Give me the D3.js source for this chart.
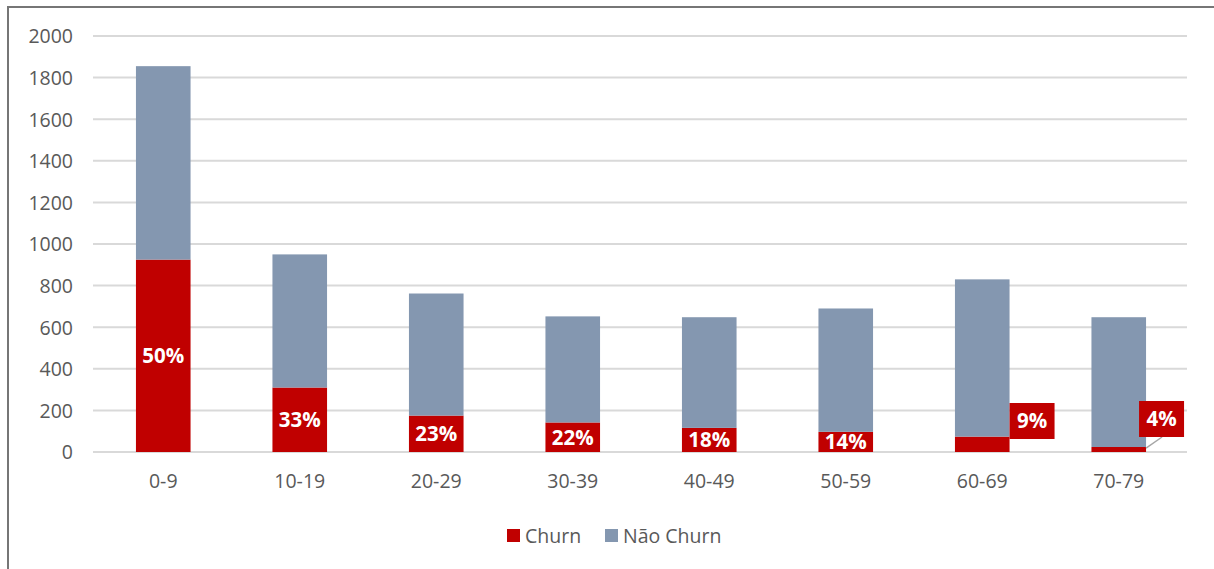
<!DOCTYPE html>
<html>
<head>
<meta charset="utf-8">
<script src="https://cdn.jsdelivr.net/npm/d3@7"></script>
<style>
  html, body { margin: 0; padding: 0; background: #fff; }
  svg { display: block; }
  text { font-family: "Open Sans", Lato, sans-serif; }
</style>
</head>
<body>
<svg id="chart" width="1214" height="569"></svg>
<script>
// Age bands and customer counts per band
const categories = ["0-9", "10-19", "20-29", "30-39", "40-49", "50-59", "60-69", "70-79"];
const churn      = [925, 310, 175, 142, 116, 97, 74, 24];
const naoChurn   = [930, 640, 587, 510, 532, 593, 756, 624];
const yTicks     = [0, 200, 400, 600, 800, 1000, 1200, 1400, 1600, 1800, 2000];
const seriesNames = ["Churn", "Não Churn"];

const colors = { "Churn": "#C00000", "Não Churn": "#8497B0" };
const textColor = "#595959";
const gridColor = "#D9D9D9";
const fontFamily = "'Open Sans', Lato, sans-serif";
const axisFont = "19.5px";
const labelFont = "20.5px";

const svg = d3.select("#chart");
const W = 1214, H = 569;

// Outer frame
svg.append("rect").attr("x", 0).attr("y", 0).attr("width", W).attr("height", H).attr("fill", "#fff");
svg.append("path")
  .attr("d", `M8,${H + 2} L8,7 L${W + 2},7`)
  .attr("fill", "none").attr("stroke", "#767676").attr("stroke-width", 2);

const plot = { left: 95, right: 1187, top: 36, bottom: 452 };

const x = d3.scaleBand().domain(categories)
  .range([plot.left, plot.right]).paddingInner(0.6).paddingOuter(0.3);
const y = d3.scaleLinear().domain([0, 2000]).range([plot.bottom, plot.top]);

// Horizontal gridlines (the 0 line doubles as the category axis)
svg.append("g").selectAll("line").data(yTicks).join("line")
  .attr("x1", plot.left - 2).attr("x2", plot.right)
  .attr("y1", d => y(d)).attr("y2", d => y(d))
  .attr("stroke", gridColor).attr("stroke-width", 2);

// Value axis labels
const yAxis = d3.axisLeft(y).tickValues(yTicks).tickFormat(d3.format("d")).tickSize(0).tickPadding(0);
const gy = svg.append("g").attr("transform", `translate(73,0)`).call(yAxis);
gy.select(".domain").remove();
gy.selectAll("text").attr("fill", textColor).style("font-size", axisFont)
  .style("font-family", fontFamily).attr("dy", "0.35em");

// Category axis labels
const xAxis = d3.axisBottom(x).tickSize(0).tickPadding(0);
const gx = svg.append("g").attr("transform", `translate(0,${plot.bottom + 22})`).call(xAxis);
gx.select(".domain").remove();
gx.selectAll("text").attr("fill", textColor).style("font-size", axisFont)
  .style("font-family", fontFamily).attr("dy", "0.71em");

// Stacked bars
const rows = categories.map((c, i) => ({ cat: c, "Churn": churn[i], "Não Churn": naoChurn[i] }));
const stack = d3.stack().keys(seriesNames)(rows);

svg.append("g").selectAll("g").data(stack).join("g")
  .attr("fill", s => colors[s.key])
  .selectAll("rect").data(s => s).join("rect")
    .attr("x", d => x(d.data.cat))
    .attr("width", x.bandwidth())
    .attr("y", d => y(d[1]))
    .attr("height", d => y(d[0]) - y(d[1]));

// Churn share labels
const pct = rows.map(r => Math.round(100 * r["Churn"] / (r["Churn"] + r["Não Churn"])));
const labels = svg.append("g");

rows.forEach((r, i) => {
  const x0 = x(r.cat), bw = x.bandwidth();
  const yTop = y(r["Churn"]), yBase = y(0);
  const txt = pct[i] + "%";
  if (i < 6) {
    labels.append("text")
      .attr("x", x0 + bw / 2).attr("y", (yTop + yBase) / 2)
      .attr("text-anchor", "middle").attr("dy", "0.36em")
      .attr("fill", "#fff").style("font-size", labelFont).style("font-weight", "bold")
      .text(txt);
  } else {
    // Small segments: label placed in a callout box beside the bar
    const boxW = 45, boxH = 36;
    const bx = i === 6 ? x0 + bw : x0 + bw - 7;
    const by = i === 6 ? 403 : 401;
    if (i === 7) {
      labels.append("line")
        .attr("x1", x0 + bw).attr("y1", yTop + 1)
        .attr("x2", bx + 23).attr("y2", by + boxH)
        .attr("stroke", "#A6A6A6").attr("stroke-width", 1.5);
    }
    labels.append("rect")
      .attr("x", bx).attr("y", by).attr("width", boxW).attr("height", boxH)
      .attr("fill", colors["Churn"]);
    labels.append("text")
      .attr("x", bx + boxW / 2).attr("y", by + boxH / 2)
      .attr("text-anchor", "middle").attr("dy", "0.36em")
      .attr("fill", "#fff").style("font-size", labelFont).style("font-weight", "bold")
      .text(txt);
  }
});

// Legend
const legend = svg.append("g");
const legendItems = [{ key: "Churn", x: 507 }, { key: "Não Churn", x: 605 }];
legendItems.forEach(it => {
  legend.append("rect").attr("x", it.x).attr("y", 529).attr("width", 13).attr("height", 13)
    .attr("fill", colors[it.key]);
  legend.append("text").attr("x", it.x + 18).attr("y", 535.5).attr("dy", "0.36em")
    .attr("fill", textColor).style("font-size", axisFont).text(it.key);
});
</script>
</body>
</html>
